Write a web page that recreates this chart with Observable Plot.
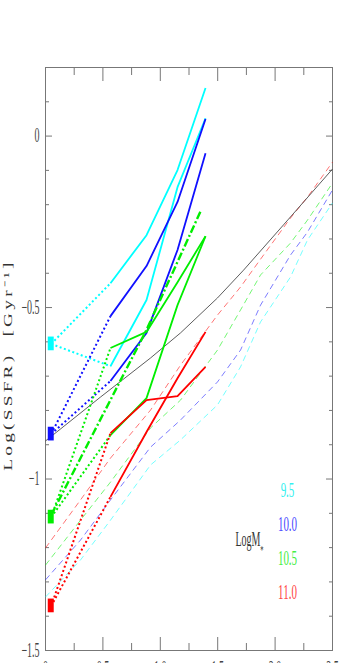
<!DOCTYPE html>
<html><head><meta charset="utf-8">
<script src="https://cdn.jsdelivr.net/npm/d3@7"></script>
<script src="https://cdn.jsdelivr.net/npm/@observablehq/plot@0.6"></script>
<style>
html,body{margin:0;padding:0;background:#fff;overflow:hidden;}
#chart svg{display:block;}
</style></head><body><div id="chart"></div>
<script>
// ---- data ----
const massLabels = ["9.5", "10.0", "10.5", "11.0"];
const massColors = ["#00ffff", "#1010ff", "#00ee00", "#ff0000"];
const zSquare = 0.05;
const zSquareHalf = 0.026;
const squareSSFR = [-0.606, -0.869, -1.111, -1.370];
const squareErr = [0.02, 0.02, 0.02, 0.02];
const zObs = [0.566, 0.880, 1.150, 1.394];
const cyanHigh = [-0.429, -0.289, -0.099, 0.140];
const cyanLow = [-0.671, -0.478, -0.149, 0.052];
const blueHigh = [-0.525, -0.379, -0.192, 0.050];
const blueLow = [-0.714, -0.574, -0.332, -0.050];
const greenHigh = [-0.618, -0.571, -0.426, -0.292];
const greenLow = [-0.872, -0.764, -0.493, -0.292];
const redHigh = [-0.866, -0.770, -0.758, -0.673];
const redLow = [-1.052, -0.863, -0.706, -0.571];
const zGreenModel = [0.05, 0.88, 1.35];
const greenModel = [-1.105, -0.565, -0.220];
const zCurve = [0, 0.479, 0.915, 1.176, 1.498, 1.725, 2.073, 2.5];
const blackCurve = [-0.889, -0.761, -0.647, -0.574, -0.472, -0.391, -0.259, -0.096];
const zDash = [0, 0.305, 0.566, 0.915, 1.176, 1.498, 1.699, 1.873, 2.134, 2.282, 2.5];
const cyanDash = [-1.344, -1.236, -1.120, -0.959, -0.886, -0.784, -0.673, -0.542, -0.411, -0.303, -0.195];
const blueDash = [-1.294, -1.178, -1.061, -0.907, -0.828, -0.717, -0.624, -0.493, -0.347, -0.280, -0.157];
const greenDash = [-1.251, -1.120, -1.009, -0.851, -0.770, -0.624, -0.507, -0.405, -0.312, -0.245, -0.137];
const redDash = [-1.201, -1.061, -0.939, -0.799, -0.668, -0.522, -0.440, -0.359, -0.239, -0.178, -0.076];
const xMajor = [0.5, 1, 1.5, 2];
const xMinor = [0.25, 0.75, 1.25, 1.75, 2.25];
const xLabelTicks = [0, 0.5, 1, 1.5, 2, 2.5];
const xLabels = ["0", "0.5", "1.0", "1.5", "2.0", "2.5"];
const yMajor = [-1.5, -1, -0.5, 0];
const yMinor = [-1.4, -1.3, -1.2, -1.1, -0.9, -0.8, -0.7, -0.6, -0.4, -0.3, -0.2, -0.1, 0.1];
const yLabels = ["−1.5", "−1", "−0.5", "0"];
const yTitle = "Log(SSFR)\u00a0\u00a0[Gyr\u207b\u00b9]";
const legendTitle = "LogM";

// ---- build ----
const toPts = (zs, vs) => zs.map((z, i) => ({z, v: vs[i]}));
const grey = "#777";
const marks = [];
marks.push(Plot.frame({stroke: grey}));
// inward ticks
for (const a of ["bottom", "top"]) {
  marks.push(Plot.axisX(xMajor, {anchor: a, tickSize: -13, tickFormat: () => "", stroke: grey, label: null}));
  marks.push(Plot.axisX(xMinor, {anchor: a, tickSize: -7, tickFormat: () => "", stroke: grey, label: null}));
}
for (const a of ["left", "right"]) {
  marks.push(Plot.axisY(yMajor, {anchor: a, tickSize: -7, tickFormat: () => "", stroke: grey, label: null}));
  marks.push(Plot.axisY(yMinor, {anchor: a, tickSize: -4, tickFormat: () => "", stroke: grey, label: null}));
}
// tick labels
marks.push(Plot.axisY(yMajor, {anchor: "left", tickSize: 0, tickPadding: 6, tickFormat: (d) => yLabels[yMajor.indexOf(d)], fontSize: 20, fontFamily: "Liberation Serif", fill: "#444", label: null}));
marks.push(Plot.axisX(xLabelTicks, {anchor: "bottom", tickSize: 0, tickPadding: 10.5, tickFormat: (d) => xLabels[xLabelTicks.indexOf(d)], fontSize: 20, fontFamily: "Liberation Serif", fill: "#444", label: null}));

const lineStyle = {x: "z", y: "v", strokeLinecap: "butt", strokeLinejoin: "round"};
// model dashed lines
[cyanDash, blueDash, greenDash, redDash].forEach((vals, i) => {
  marks.push(Plot.line(toPts(zDash, vals), {...lineStyle, stroke: massColors[i], strokeOpacity: 0.55, strokeWidth: 1, strokeDasharray: "6,4"}));
});
marks.push(Plot.line(toPts(zCurve, blackCurve), {...lineStyle, stroke: "#333", strokeWidth: 0.8}));

const obs = [[cyanHigh, cyanLow], [blueHigh, blueLow], [greenHigh, greenLow], [redHigh, redLow]];
obs.forEach((pair, i) => pair.forEach(vals => {
  marks.push(Plot.line([{z: zSquare, v: squareSSFR[i]}, {z: zObs[0], v: vals[0]}], {...lineStyle, stroke: massColors[i], strokeWidth: 2, strokeDasharray: "2,2.5"}));
  marks.push(Plot.line(toPts(zObs, vals), {...lineStyle, stroke: massColors[i], strokeWidth: 1.8}));
}));
marks.push(Plot.line(toPts(zGreenModel, greenModel), {...lineStyle, stroke: massColors[2], strokeWidth: 2.4, strokeDasharray: "8,2.5,2,2.5"}));

squareSSFR.forEach((v, i) => {
  marks.push(Plot.rect([{v, e: squareErr[i]}], {x1: () => zSquare - zSquareHalf, x2: () => zSquare + zSquareHalf, y1: d => d.v - d.e, y2: d => d.v + d.e, fill: massColors[i]}));
});

// legend
const legendColors = ["#33f0f0", "#4a4aff", "#44ee44", "#ff4444"];
massLabels.forEach((lab, i) => {
  marks.push(Plot.text([lab], {x: () => 2.108, y: () => -1.032 - i * 0.0995, text: d => d, fill: legendColors[i], fontSize: 22, fontFamily: "Liberation Serif", textAnchor: "middle", lineAnchor: "middle"}));
});
marks.push(Plot.text([legendTitle], {x: () => 1.655, y: () => -1.178, text: d => d, fill: "#333", fontSize: 20, fontFamily: "Liberation Serif", textAnchor: "start", lineAnchor: "middle"}));
marks.push(Plot.text(["*"], {x: () => 1.87, y: () => -1.205, text: d => d, fill: "#333", fontSize: 13, fontFamily: "Liberation Serif", textAnchor: "start", lineAnchor: "middle"}));

// y title
marks.push(Plot.text([yTitle], {frameAnchor: "left", dx: -34, dy: 6, rotate: -90, text: d => d, fill: "#333", fontSize: 12, fontFamily: "Liberation Serif", textAnchor: "middle", lineAnchor: "bottom"}));

const svg = Plot.plot({
  width: 364, height: 663,
  marginLeft: 45, marginRight: 32, marginTop: 67, marginBottom: 13,
  x: {domain: [0, 2.5], label: null},
  y: {domain: [-1.5, 0.2], label: null},
  style: {background: "white"},
  marks
});
document.getElementById("chart").append(svg);

// condensed look for serif labels, stretched title
d3.select(svg).selectAll("text").each(function() {
  const t = this.textContent;
  let sx = 0.5;
  if (t.includes("SSFR")) {
    this.setAttribute("letter-spacing", "2");
    const len = this.getComputedTextLength();
    sx = 212 / len;
  }
  const tr = this.getAttribute("transform");
  if (tr) {
    this.setAttribute("transform", tr + ` scale(${sx},1)`);
  } else {
    const x = +this.getAttribute("x") || 0, y = +this.getAttribute("y") || 0;
    this.setAttribute("x", 0); this.setAttribute("y", 0);
    this.setAttribute("transform", `translate(${x},${y}) scale(${sx},1)`);
  }
});
</script></body></html>
